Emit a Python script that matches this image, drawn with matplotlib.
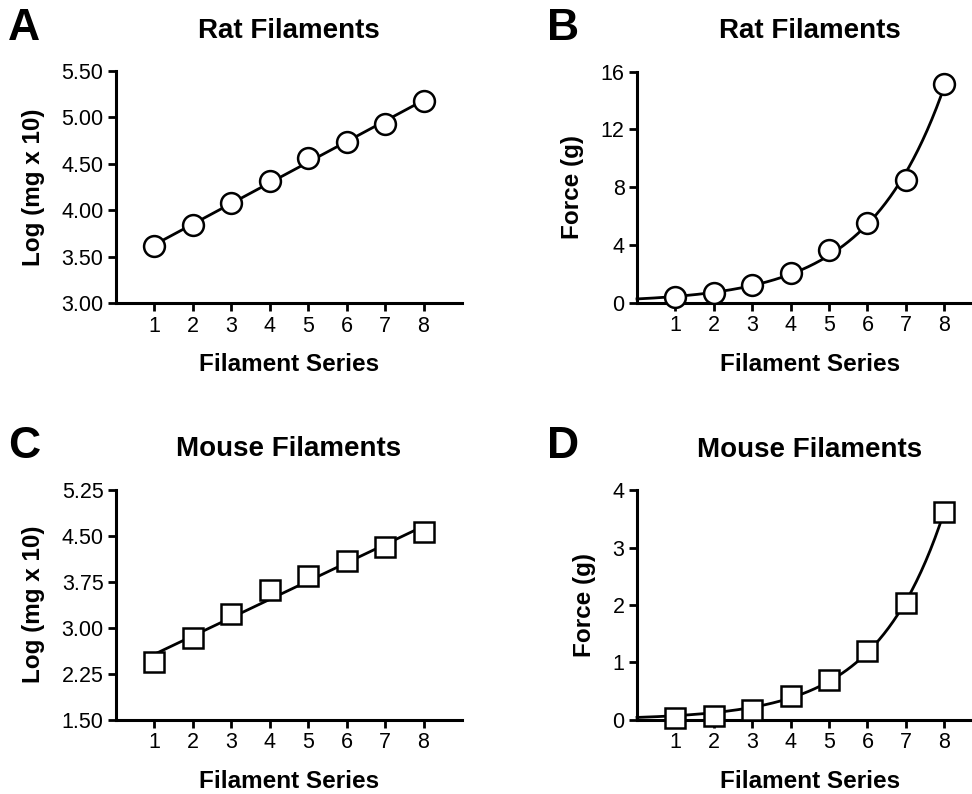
import matplotlib
matplotlib.use("Agg")
import matplotlib.pyplot as plt
import numpy as np

plt.rcParams['font.family'] = ['Liberation Sans', 'DejaVu Sans']

# data
series = [1, 2, 3, 4, 5, 6, 7, 8]
rat_log = [3.61, 3.84, 4.08, 4.31, 4.56, 4.74, 4.93, 5.18]
rat_force = [0.41, 0.69, 1.20, 2.04, 3.63, 5.50, 8.51, 15.14]
mouse_log = [2.44, 2.83, 3.22, 3.61, 3.84, 4.08, 4.31, 4.56]
mouse_force = [0.028, 0.068, 0.166, 0.407, 0.692, 1.202, 2.041, 3.63]

W, H = 972, 794
fig = plt.figure(figsize=(W / 100, H / 100), dpi=100)


def px_axes(left, top, right, bottom):
    return fig.add_axes([left / W, 1 - bottom / H, (right - left) / W, (bottom - top) / H])


def exp_fit(x, y):
    # least squares fit of y = a*exp(b*x) in linear space (grid over b)
    x = np.asarray(x, float)
    y = np.asarray(y, float)
    best = None
    for b in np.linspace(0.1, 1.5, 2801):
        e = np.exp(b * x)
        a = np.sum(y * e) / np.sum(e * e)
        err = np.sum((y - a * e) ** 2)
        if best is None or err < best[0]:
            best = (err, a, b)
    return best[1], best[2]


def style(ax, title, ylabel, letter, letter_xy):
    for s in ['top', 'right']:
        ax.spines[s].set_visible(False)
    for s in ['left', 'bottom']:
        ax.spines[s].set_linewidth(2.2)
    ax.tick_params(width=2.0, length=6, labelsize=15.5, pad=3)
    ax.set_xticks(series)
    ax.set_title(title, fontsize=20, fontweight='bold', pad=24)
    ax.set_xlabel('Filament Series', fontsize=17.5, fontweight='bold', labelpad=12)
    ax.set_ylabel(ylabel, fontsize=17.5, fontweight='bold', labelpad=12)
    fig.text(letter_xy[0] / W, 1 - letter_xy[1] / H, letter, fontsize=32,
             fontweight='bold', ha='left', va='center')


x = np.array(series, dtype=float)
xs_line = np.linspace(1, 8, 50)
xs_curve = np.linspace(0, 8, 200)

# A
ax = px_axes(116, 71, 462, 303)
p = np.polyfit(x, rat_log, 1)
ax.plot(xs_line, np.polyval(p, xs_line), color='black', lw=2.0, zorder=2)
ax.plot(series, rat_log, 'o', ms=15, mfc='white', mec='black', mew=1.8, zorder=3)
ax.set_xlim(0, 9)
ax.set_ylim(3.0, 5.5)
ax.set_yticks([3.0, 3.5, 4.0, 4.5, 5.0, 5.5])
ax.set_yticklabels(['3.00', '3.50', '4.00', '4.50', '5.00', '5.50'])
style(ax, 'Rat Filaments', 'Log (mg x 10)', 'A', (8, 28))

# B
ax = px_axes(637, 71.7, 637 + 9 * 38.4, 302.7)
a, b = exp_fit(series, rat_force)
ax.plot(xs_curve, a * np.exp(b * xs_curve), color='black', lw=2.0, zorder=2, clip_on=False)
ax.plot(series, rat_force, 'o', ms=15, mfc='white', mec='black', mew=1.8, zorder=3, clip_on=False)
ax.set_xlim(0, 9)
ax.set_ylim(0, 16)
ax.set_yticks([0, 4, 8, 12, 16])
style(ax, 'Rat Filaments', 'Force (g)', 'B', (547, 28))

# C
ax = px_axes(116, 489.7, 462, 719.7)
p = np.polyfit(x, mouse_log, 1)
ax.plot(xs_line, np.polyval(p, xs_line), color='black', lw=2.0, zorder=2)
ax.plot(series, mouse_log, 's', ms=14, mfc='white', mec='black', mew=1.8, zorder=3)
ax.set_xlim(0, 9)
ax.set_ylim(1.5, 5.25)
ax.set_yticks([1.5, 2.25, 3.0, 3.75, 4.5, 5.25])
ax.set_yticklabels(['1.50', '2.25', '3.00', '3.75', '4.50', '5.25'])
style(ax, 'Mouse Filaments', 'Log (mg x 10)', 'C', (8, 447))

# D
ax = px_axes(637, 490.3, 637 + 9 * 38.4, 719.7)
a, b = exp_fit(series, mouse_force)
ax.plot(xs_curve, a * np.exp(b * xs_curve), color='black', lw=2.0, zorder=2, clip_on=False)
ax.plot(series, mouse_force, 's', ms=14, mfc='white', mec='black', mew=1.8, zorder=3, clip_on=False)
ax.set_xlim(0, 9)
ax.set_ylim(0, 4)
ax.set_yticks([0, 1, 2, 3, 4])
style(ax, 'Mouse Filaments', 'Force (g)', 'D', (547, 447))

fig.savefig('out.png', dpi=100)
